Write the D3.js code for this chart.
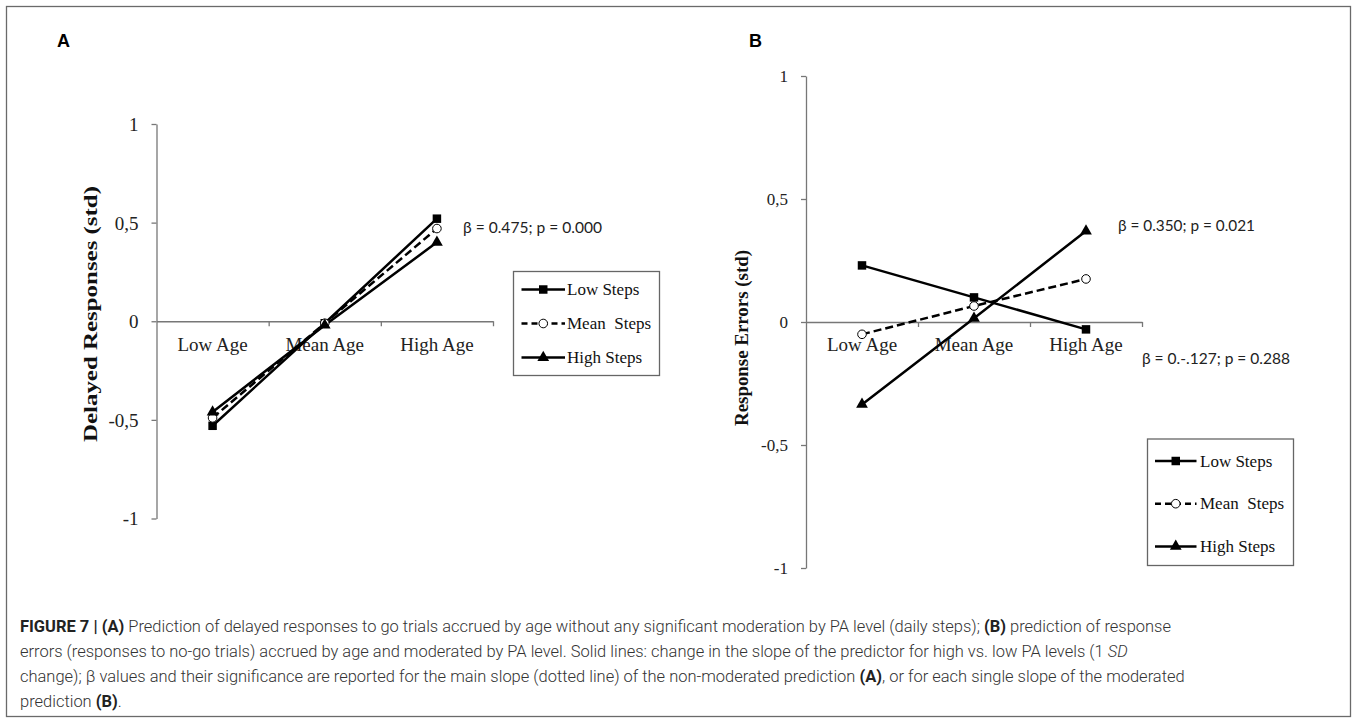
<!DOCTYPE html>
<html>
<head>
<meta charset="utf-8">
<script src="https://cdn.jsdelivr.net/npm/d3@7"></script>
<style>
  html, body { margin: 0; padding: 0; background: #fff; }
  svg { display: block; }
</style>
</head>
<body>
<svg id="chart" width="1357" height="722"></svg>
<script>
// ---------------- DATA ----------------
const categories = ["Low Age", "Mean Age", "High Age"];
const seriesLabels = ["Low Steps", "Mean  Steps", "High Steps"];
const yTickValues = [-1, -0.5, 0, 0.5, 1];

// Panel A: Delayed Responses (std)
const delayedLowSteps  = [-0.53, -0.01, 0.52];
const delayedMeanSteps = [-0.49, -0.01, 0.47];
const delayedHighSteps = [-0.46, -0.02, 0.40];

// Panel B: Response Errors (std)
const errorsLowSteps  = [0.23, 0.10, -0.03];
const errorsMeanSteps = [-0.05, 0.065, 0.175];
const errorsHighSteps = [-0.335, 0.015, 0.37];

const annotationA  = "β = 0.475; p = 0.000";
const annotationB1 = "β = 0.350; p = 0.021";
const annotationB2 = "β = 0.-.127; p = 0.288";

const yTitleA = "Delayed Responses (std)";
const yTitleB = "Response Errors (std)";

const captionLines = [
  [["FIGURE 7 | (A)", "b"], [" Prediction of delayed responses to go trials accrued by age without any significant moderation by PA level (daily steps); ", "n"], ["(B)", "b"], [" prediction of response", "n"]],
  [["errors (responses to no-go trials) accrued by age and moderated by PA level. Solid lines: change in the slope of the predictor for high vs. low PA levels (1 ", "n"], ["SD", "i"]],
  [["change); β values and their significance are reported for the main slope (dotted line) of the non-moderated prediction ", "n"], ["(A)", "b"], [", or for each single slope of the moderated", "n"]],
  [["prediction ", "n"], ["(B)", "b"], [".", "n"]]
];

// ---------------- DRAWING ----------------
const svg = d3.select("#chart");
const SERIF = "'Liberation Serif', 'Times New Roman', serif";
const SANS = "'Liberation Sans', Arial, sans-serif";

// outer frame
svg.append("rect").attr("x", 6.5).attr("y", 6.5).attr("width", 1344).attr("height", 710)
  .attr("fill", "none").attr("stroke", "#6a6a6a").attr("stroke-width", 1.3);

const seriesStyle = [
  { symbol: d3.symbolSquare, size: 72, dash: null },
  { symbol: null, size: 0, dash: "8,4" },
  { symbol: d3.symbolTriangle, size: 60, dash: null }
];

function drawMarker(g, styleIdx, x, y) {
  const s = seriesStyle[styleIdx];
  if (s.symbol) {
    g.append("path").attr("d", d3.symbol(s.symbol, s.size)())
      .attr("transform", `translate(${x},${y})`).attr("fill", "#000");
  } else {
    g.append("circle").attr("cx", x).attr("cy", y).attr("r", 4.3)
      .attr("fill", "#fff").attr("stroke", "#000").attr("stroke-width", 1);
  }
}

function panel(cfg) {
  const g = svg.append("g");
  const x = d3.scaleBand().domain(categories).range(cfg.xRange).padding(0);
  const xi = d3.scaleLinear().domain([0, categories.length]).range(cfg.xRange);
  const y = d3.scaleLinear().domain([-1, 1]).range([cfg.yRange[1], cfg.yRange[0]]);

  // y axis
  const ya = g.append("g").attr("transform", `translate(${cfg.xRange[0]},0)`)
    .call(d3.axisLeft(y).tickValues(yTickValues).tickSize(5).tickSizeOuter(0).tickPadding(13)
      .tickFormat(d => String(d).replace(".", ",")));
  ya.select(".domain").attr("stroke", "#777").attr("stroke-width", 1.3);
  ya.selectAll(".tick line").attr("stroke", "#777").attr("stroke-width", 1.3);
  ya.selectAll(".tick text").attr("font-family", SERIF).attr("font-size", cfg.tickFont)
    .attr("fill", "#222").attr("dy", "0.34em");

  // x axis line with boundary ticks
  const xa = g.append("g").attr("transform", `translate(0,${y(0)})`)
    .call(d3.axisBottom(xi).tickValues([1, 2, 3]).tickSize(5).tickSizeOuter(0).tickFormat(""));
  xa.select(".domain").attr("stroke", "#777").attr("stroke-width", 1.3);
  xa.selectAll(".tick line").attr("stroke", "#777").attr("stroke-width", 1.3);

  // category labels
  const xl = g.append("g").attr("transform", `translate(0,${y(0)})`)
    .call(d3.axisBottom(x).tickSize(0).tickPadding(16));
  xl.select(".domain").remove();
  xl.selectAll(".tick text").attr("font-family", SERIF).attr("font-size", 19).attr("fill", "#222");

  // y title
  g.append("text")
    .attr("transform", `translate(${cfg.titleX},${cfg.titleY}) rotate(-90)`)
    .attr("text-anchor", "middle").attr("dominant-baseline", "central")
    .attr("font-family", SERIF).attr("font-weight", "bold").attr("font-size", 19)
    .attr("textLength", cfg.titleLen).attr("lengthAdjust", "spacingAndGlyphs")
    .attr("fill", "#111").text(cfg.title);

  // lines
  const line = d3.line().x((d, i) => x(categories[i]) + x.bandwidth() / 2).y(d => y(d));
  cfg.series.forEach((vals, si) => {
    g.append("path").datum(vals).attr("d", line).attr("fill", "none")
      .attr("stroke", "#000").attr("stroke-width", 2.5)
      .attr("stroke-dasharray", seriesStyle[si].dash);
  });
  // markers
  cfg.series.forEach((vals, si) => {
    vals.forEach((v, i) => drawMarker(g, si, x(categories[i]) + x.bandwidth() / 2, y(v)));
  });

  // annotations
  cfg.annotations.forEach(a => {
    g.append("text").attr("x", a.x).attr("y", a.y).attr("font-family", "Lato, 'Open Sans', sans-serif")
      .attr("font-size", 15).attr("fill", "#222")
      .attr("textLength", a.len).attr("lengthAdjust", "spacingAndGlyphs").text(a.text);
  });

  // legend
  const L = cfg.legend;
  g.append("rect").attr("x", L.x0).attr("y", L.y0).attr("width", L.x1 - L.x0).attr("height", L.y1 - L.y0)
    .attr("fill", "#fff").attr("stroke", "#666").attr("stroke-width", 1.3);
  seriesLabels.forEach((lab, si) => {
    const cy = L.first + si * L.step;
    g.append("line").attr("x1", L.lx0).attr("x2", L.lx1).attr("y1", cy).attr("y2", cy)
      .attr("stroke", "#000").attr("stroke-width", 2.5)
      .attr("stroke-dasharray", si === 1 ? "6,4" : null);
    drawMarker(g, si, (L.lx0 + L.lx1) / 2, cy);
    g.append("text").attr("x", L.tx).attr("y", cy + 5.5).attr("font-family", SERIF)
      .attr("font-size", 17).attr("fill", "#111").style("white-space", "pre").text(lab);
  });

  // panel letter
  g.append("text").attr("x", cfg.letterX).attr("y", 46.5).attr("font-family", SANS)
    .attr("font-weight", "bold").attr("font-size", 18).attr("fill", "#000").text(cfg.letter);
}

panel({
  letter: "A", letterX: 57,
  xRange: [156.5, 493], yRange: [124, 518.5],
  tickFont: 19,
  title: yTitleA, titleX: 90.5, titleY: 314, titleLen: 256,
  series: [delayedLowSteps, delayedMeanSteps, delayedHighSteps],
  annotations: [{ text: annotationA, x: 463, y: 233, len: 139 }],
  legend: { x0: 513.5, x1: 659.5, y0: 271.5, y1: 375.5, first: 289.5, step: 34, lx0: 521.5, lx1: 565, tx: 567 }
});

panel({
  letter: "B", letterX: 749,
  xRange: [806, 1142], yRange: [76, 568],
  tickFont: 17,
  title: yTitleB, titleX: 741, titleY: 338, titleLen: 176,
  series: [errorsLowSteps, errorsMeanSteps, errorsHighSteps],
  annotations: [
    { text: annotationB1, x: 1118, y: 231, len: 137 },
    { text: annotationB2, x: 1142, y: 364, len: 148 }
  ],
  legend: { x0: 1147.5, x1: 1293.5, y0: 439, y1: 565.5, first: 461, step: 42.7, lx0: 1155, lx1: 1196.5, tx: 1200 }
});

// caption: font size chosen so that the first line spans the reference width
const capTarget = 1152;
const baseSize = 16;
const capTexts = captionLines.map((segs, li) => {
  const t = svg.append("text").attr("x", 20).attr("y", 632 + li * 25)
    .attr("font-family", "Roboto, 'Liberation Sans', sans-serif").attr("font-weight", 300)
    .attr("font-size", baseSize).attr("fill", "#333")
    .style("white-space", "pre");
  segs.forEach(([s, k]) => {
    const ts = t.append("tspan").text(s);
    if (k === "b") ts.attr("font-weight", "bold").attr("fill", "#222");
    if (k === "i") ts.attr("font-style", "italic");
  });
  return t;
});
const natural = capTexts[0].node().getComputedTextLength();
const capSize = baseSize * capTarget / natural;
capTexts.forEach(t => t.attr("font-size", capSize));
</script>
</body>
</html>
